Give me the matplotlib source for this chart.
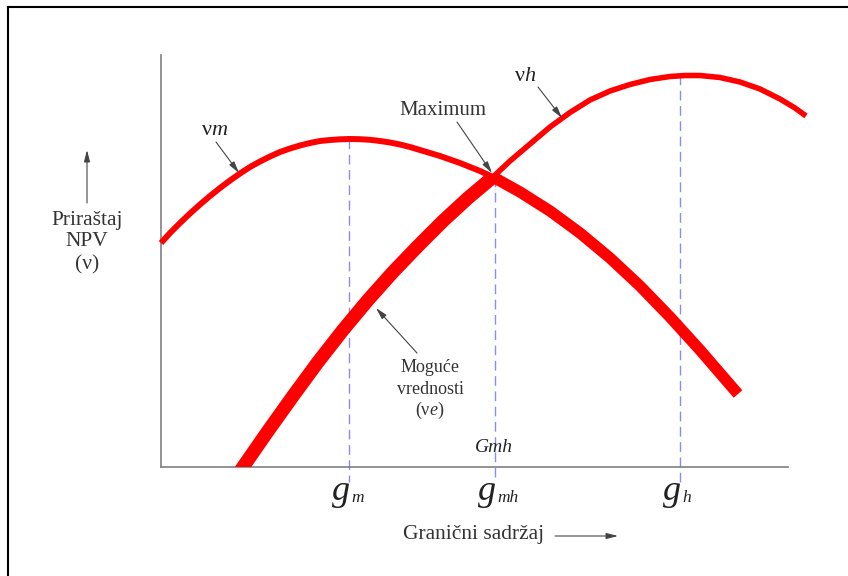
import matplotlib
matplotlib.use('Agg')
import matplotlib.pyplot as plt
from matplotlib.lines import Line2D

plt.rcParams['font.family'] = ['Liberation Serif', 'DejaVu Serif']
plt.rcParams['mathtext.fontset'] = 'custom'
plt.rcParams['mathtext.rm'] = 'Liberation Serif'
plt.rcParams['mathtext.it'] = 'Liberation Serif:italic'

# curve readings (x = grade axis, y = incremental NPV), arbitrary units
vm_thin_x = [0, 9, 19, 29, 39, 49, 59, 69, 79, 89, 99, 109, 119, 129, 139, 149, 159,
             169, 179, 189, 199, 209, 219, 229, 239, 249, 259, 269, 279, 289, 299, 309, 319, 332]
vm_thin_y = [224, 234, 244, 253.5, 262.5, 271, 279, 286.5, 293.5, 300, 305.5, 310.5, 315, 318.5,
             321.5, 324, 326, 327, 327.7, 328, 327.8, 327.2, 326, 324.5, 322.5, 320, 317, 314,
             311, 307.5, 304, 300, 296, 290]
vm_thick_x = [332, 359, 389, 419, 449, 479, 509, 539, 577]
vm_thick_y = [290, 275, 256, 234, 209, 181, 150, 117, 73]
ve_x = [78, 82, 107, 132, 157, 182, 207, 232, 257, 282, 307, 332]
ve_y = [-6, 0, 36, 71, 105, 137, 167, 195, 221, 246, 269, 290]
vh_x = [332, 349, 369, 389, 409, 429, 449, 469, 489, 509, 524, 539, 559, 579, 599, 619, 634, 645]
vh_y = [290, 306, 323, 340, 354.5, 367, 376, 382.5, 387.5, 390.5, 391.5, 391.5, 389.5, 385,
        378, 368, 359, 351]

g_pos = [188, 334, 519]
g_top = [328, 290, 392]
g_sub = ['m', 'mh', 'h']

red = '#ff0000'
fig = plt.figure(figsize=(8.48, 5.76), dpi=100)
ax = fig.add_axes([161 / 848, 109 / 576, 627 / 848, 412 / 576])
ax.set_xlim(0, 627)
ax.set_ylim(0, 412)
for s in ['top', 'right']:
    ax.spines[s].set_visible(False)
for s in ['left', 'bottom']:
    ax.spines[s].set_color('#808080')
    ax.spines[s].set_linewidth(1.2)
ax.set_xticks([])
ax.set_yticks([])

# dashed guides
for x, top in zip(g_pos, g_top):
    ax.plot([x, x], [top, -15], color='#8c8cf0', lw=1.0, ls=(0, (7, 4)), clip_on=False, zorder=1)

kw = dict(color=red, solid_joinstyle='round', solid_capstyle='butt', zorder=3)
ax.plot(vm_thin_x, vm_thin_y, lw=4.3, clip_on=False, **kw)
ax.plot(vm_thick_x, vm_thick_y, lw=8.2, clip_on=False, **kw)
ax.plot(ve_x, ve_y, lw=9.8, **kw)
ax.plot(vh_x, vh_y, lw=4.0, clip_on=False, **kw)

# g labels under the axis
for x, sub in zip(g_pos, g_sub):
    ax.text(x + 1, -33, 'g', fontsize=26, style='italic', ha='right', va='baseline', color='#222')
    ax.text(x + 2, -35, sub, fontsize=12.5, style='italic', ha='left', va='baseline', color='#222')

ax.text(333, 19, 'Gmh', fontsize=14, style='italic', ha='center', va='center', color='#222')

arrow = dict(arrowstyle='-|>,head_length=0.7,head_width=0.18', color='#444', lw=0.8, shrinkA=0, shrinkB=0)
ax.text(282, 357, 'Maximum', ha='center', va='center', fontsize=15, color='#333')
ax.annotate('', xy=(331, 294), xytext=(296, 345), arrowprops=arrow, annotation_clip=False)
ax.text(364, 391, 'ν$h$', fontsize=16, ha='center', va='center', color='#222')
ax.annotate('', xy=(401, 349), xytext=(377, 380), arrowprops=arrow, annotation_clip=False)
ax.text(54, 337, 'ν$m$', fontsize=16, ha='center', va='center', color='#222')
ax.annotate('', xy=(78, 294), xytext=(55, 325), arrowprops=arrow, annotation_clip=False)

ax.text(269, 99, 'Moguće', fontsize=13, ha='center', va='center', color='#333')
ax.text(269, 78, 'vrednosti', fontsize=13, ha='center', va='center', color='#333')
ax.text(269, 57, '(ν$e$)', fontsize=13, ha='center', va='center', color='#333')
ax.annotate('', xy=(215, 159), xytext=(256, 114), arrowprops=arrow, annotation_clip=False)

ax.text(313, -67, 'Granični sadržaj', fontsize=15.5, ha='center', va='center', color='#333')
ax.annotate('', xy=(457, -69), xytext=(394, -69), arrowprops=arrow, annotation_clip=False)

ax.text(-74, 247, 'Priraštaj', fontsize=15.5, ha='center', va='center', color='#333')
ax.text(-74, 225, 'NPV', fontsize=15.5, ha='center', va='center', color='#333')
ax.text(-74, 202, '(ν)', fontsize=15.5, ha='center', va='center', color='#333')
ax.annotate('', xy=(-74, 317), xytext=(-74, 264), arrowprops=arrow, annotation_clip=False)

# page frame (top and left edges)
fig.add_artist(Line2D([7.5 / 848, 1], [1 - 6.5 / 576, 1 - 6.5 / 576], color='black', lw=1.5))
fig.add_artist(Line2D([7.5 / 848, 7.5 / 848], [0, 1 - 6.5 / 576], color='black', lw=1.5))

fig.savefig('out.png', dpi=100)
